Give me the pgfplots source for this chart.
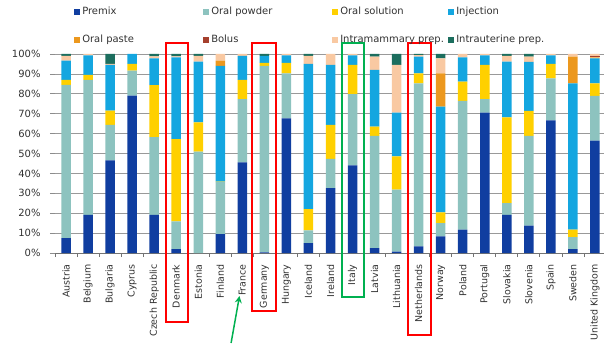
\documentclass[border=0pt]{standalone}
\usepackage{pgfplots}
\pgfplotsset{compat=1.18}
\usepackage{pgfplotstable}
\usepackage{fontspec}
\setmainfont{DejaVu Sans}
\usetikzlibrary{arrows.meta}

\definecolor{cPremix}{RGB}{16,62,160}
\definecolor{cPowder}{RGB}{141,195,191}
\definecolor{cSolution}{RGB}{255,208,0}
\definecolor{cInjection}{RGB}{20,166,224}
\definecolor{cPaste}{RGB}{236,152,30}
\definecolor{cBolus}{RGB}{165,64,45}
\definecolor{cMammary}{RGB}{249,201,162}
\definecolor{cUterine}{RGB}{28,110,94}
\definecolor{cRed}{RGB}{255,0,0}
\definecolor{cGreen}{RGB}{0,176,80}
\definecolor{cText}{RGB}{50,50,50}

\pgfplotstableread{
idx premix powder solution injection paste bolus mammary uterine
0  7.5  77.0  2.5  9.7  0    0    2.3  1.0
1  19.2 67.8  2.5  9.8  0    0    0.7  0
2  46.5 17.9  7.2  22.9 0    0    0.5  5.0
3  79.1 12.5  3.4  5.0  0    0    0    0
4  19.2 39.0  26.2 13.4 0    0    1.0  1.2
5  2.0  13.9  41.3 41.1 0    0    0.5  1.2
6  0    51.0  14.6 30.6 0    0    2.8  1.0
7  9.5  26.1  0.3  58.1 2.7  0    3.3  0
8  45.5 31.8  9.7  12.0 0    0    1.0  0
9  0.3  93.7  1.6  3.4  0    0    0    1.0
10 67.7 22.6  5.3  3.7  0    0    0.7  0
11 5.0  6.4   10.7 73.0 0    0    4.0  0.9
12 32.6 14.7  17.1 30.1 0    0    5.5  0
13 44.0 35.8  14.7 4.8  0    0    0.7  0
14 2.5  56.4  4.6  28.5 0    0    6.7  1.3
15 0.7  31.1  16.7 22.1 0    0    23.9 5.5
16 3.3  82.0  5.0  8.4  0    0    0.7  0.6
17 8.4  6.6   5.4  53.2 16.7 0    7.5  2.2
18 11.7 64.7  9.7  12.2 0    0    1.7  0
19 70.6 6.7   17.2 4.8  0    0    0.7  0
20 19.2 5.9   43.1 28.0 0    0    2.8  1.0
21 13.7 45.2  12.5 24.6 0    0    2.7  1.3
22 66.6 21.2  7.2  4.3  0    0    0.7  0
23 2.0  6.0   3.7  73.6 13.4 0    1.3  0
24 56.5 22.4  6.4  12.5 0.5  0.7  1.0  0
}\data

\begin{document}
\begin{tikzpicture}
\begin{axis}[
  at={(0,0)}, anchor=south west, scale only axis,
  width=551bp, height=199bp,
  ybar stacked, bar width=9.5bp,
  xmin=-0.5, xmax=24.5, ymin=0, ymax=100,
  clip=false,
  axis x line*=bottom, axis y line*=left,
  y axis line style={draw=none},
  x axis line style={draw=black!55, line width=0.8pt},
  xtick={0,...,24},
  xticklabels={Austria,Belgium,Bulgaria,Cyprus,Czech Republic,Denmark,Estonia,Finland,France,Germany,Hungary,Iceland,Ireland,Italy,Latvia,Lithuania,Netherlands,Norway,Poland,Portugal,Slovakia,Slovenia,Spain,Sweden,United Kingdom},
  x tick label style={rotate=90, anchor=east, font=\fontsize{9.5}{11}\selectfont, text=cText, xshift=-3bp},
  major x tick style={draw=none},
  minor xtick={-0.5,0.5,...,24.5},
  minor tick length=4bp,
  minor x tick style={draw=black!55, line width=0.8pt},
  tick align=outside,
  major tick length=5bp,
  ytick={0,10,...,100},
  yticklabel={\pgfmathprintnumber[assume math mode=true]{\tick}\%},
  y tick label style={font=\fontsize{10}{12}\selectfont, text=cText, anchor=east, xshift=-6bp},
  major y tick style={draw=black!45, line width=0.8pt},
  ymajorgrids, grid style={black!40, line width=0.8pt},
  legend columns=4,
  legend cell align=left,
  legend style={at={(axis description cs:0.035,1.236)}, anchor=north west,
    draw=none, fill=none, inner sep=0pt, outer sep=0pt,
    font=\fontsize{10}{12}\selectfont, text=cText,
    nodes={inner sep=0pt, outer sep=0pt},
    row sep=19bp,
    /tikz/every odd column/.append style={column sep=2bp},
    /tikz/every even column/.append style={column sep=0bp}},
  legend image code/.code={\fill[#1] (0bp,-3bp) rectangle (6bp,3bp);},
]
\addplot+[fill=cPremix, draw=none] table[x=idx, y=premix]{\data};
\addlegendentry{\makebox[121bp][l]{Premix}}
\addplot+[fill=cPowder, draw=none] table[x=idx, y=powder]{\data};
\addlegendentry{\makebox[121bp][l]{Oral powder}}
\addplot+[fill=cSolution, draw=none] table[x=idx, y=solution]{\data};
\addlegendentry{\makebox[108bp][l]{Oral solution}}
\addplot+[fill=cInjection, draw=none] table[x=idx, y=injection]{\data};
\addlegendentry{Injection}
\addplot+[fill=cPaste, draw=none] table[x=idx, y=paste]{\data};
\addlegendentry{\makebox[121bp][l]{Oral paste}}
\addplot+[fill=cBolus, draw=none] table[x=idx, y=bolus]{\data};
\addlegendentry{\makebox[121bp][l]{Bolus}}
\addplot+[fill=cMammary, draw=none] table[x=idx, y=mammary]{\data};
\addlegendentry{\makebox[108bp][l]{Intramammary prep.}}
\addplot+[fill=cUterine, draw=none] table[x=idx, y=uterine]{\data};
\addlegendentry{Intrauterine prep.}

\draw[cRed, line width=1.8bp] (axis cs:4.54,105.5) rectangle (axis cs:5.53,-34.7);
\draw[cRed, line width=1.8bp] (axis cs:8.44,105.5) rectangle (axis cs:9.53,-29.1);
\draw[cRed, line width=1.8bp] (axis cs:15.52,105.5) rectangle (axis cs:16.56,-41.2);
\draw[cGreen, line width=1.8bp] (axis cs:12.52,105.5) rectangle (axis cs:13.52,-22.1);
\draw[cGreen, line width=1.5bp, -{Stealth[length=7bp,width=7bp]}] (axis cs:7.49,-45.2) -- (axis cs:7.87,-21.6);
\end{axis}
\pgfresetboundingbox
\path[use as bounding box] (-55bp,-101bp) rectangle (549bp,253bp);
\end{tikzpicture}
\end{document}
